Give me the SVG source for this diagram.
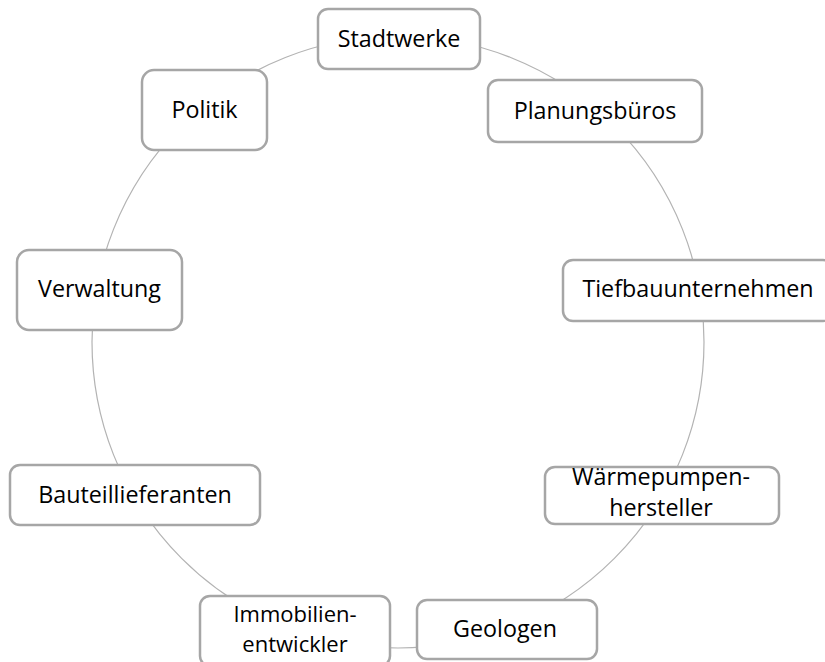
<svg xmlns="http://www.w3.org/2000/svg" width="825" height="662" viewBox="0 0 825 662">
<style>
.box{fill:#ffffff;stroke:#a6a6a6;stroke-width:2.5}
.lbl{font-family:"Open Sans","Noto Sans",sans-serif;font-size:23.3px;fill:#000000;text-anchor:middle}
.sm{font-size:22px}
.conn{fill:none;stroke:#b3b3b3;stroke-width:1.2}
</style>
<rect width="825" height="662" fill="#ffffff"/>
<g id="connectors">
<circle class="conn" cx="398" cy="342" r="306"/>
</g>
<g id="stadtwerke"><rect class="box" x="318" y="9" width="162" height="60" rx="10"/><text class="lbl" x="399" y="47">Stadtwerke</text></g>
<g id="planungsbueros"><rect class="box" x="488" y="80" width="214" height="62" rx="10"/><text class="lbl" x="595" y="119">Planungsbüros</text></g>
<g id="politik"><rect class="box" x="142" y="70" width="125" height="80" rx="12"/><text class="lbl" x="204.5" y="118">Politik</text></g>
<g id="tiefbau"><rect class="box" x="563" y="260" width="270" height="61" rx="10"/><text class="lbl" x="698" y="297">Tiefbauunternehmen</text></g>
<g id="verwaltung"><rect class="box" x="17" y="250" width="165" height="80" rx="12"/><text class="lbl" x="99.5" y="297">Verwaltung</text></g>
<g id="waermepumpen"><rect class="box" x="545" y="467" width="234" height="57" rx="10"/><text class="lbl" x="661" y="485">Wärmepumpen-</text><text class="lbl" x="661" y="516">hersteller</text></g>
<g id="bauteil"><rect class="box" x="10" y="465" width="250" height="60" rx="10"/><text class="lbl" x="135" y="503">Bauteillieferanten</text></g>
<g id="immobilien"><rect class="box" x="200" y="596" width="190" height="70" rx="10"/><text class="lbl sm" x="295" y="622">Immobilien-</text><text class="lbl sm" x="295" y="652">entwickler</text></g>
<g id="geologen"><rect class="box" x="417" y="600" width="180" height="59" rx="10"/><text class="lbl" x="505" y="637">Geologen</text></g>
</svg>
